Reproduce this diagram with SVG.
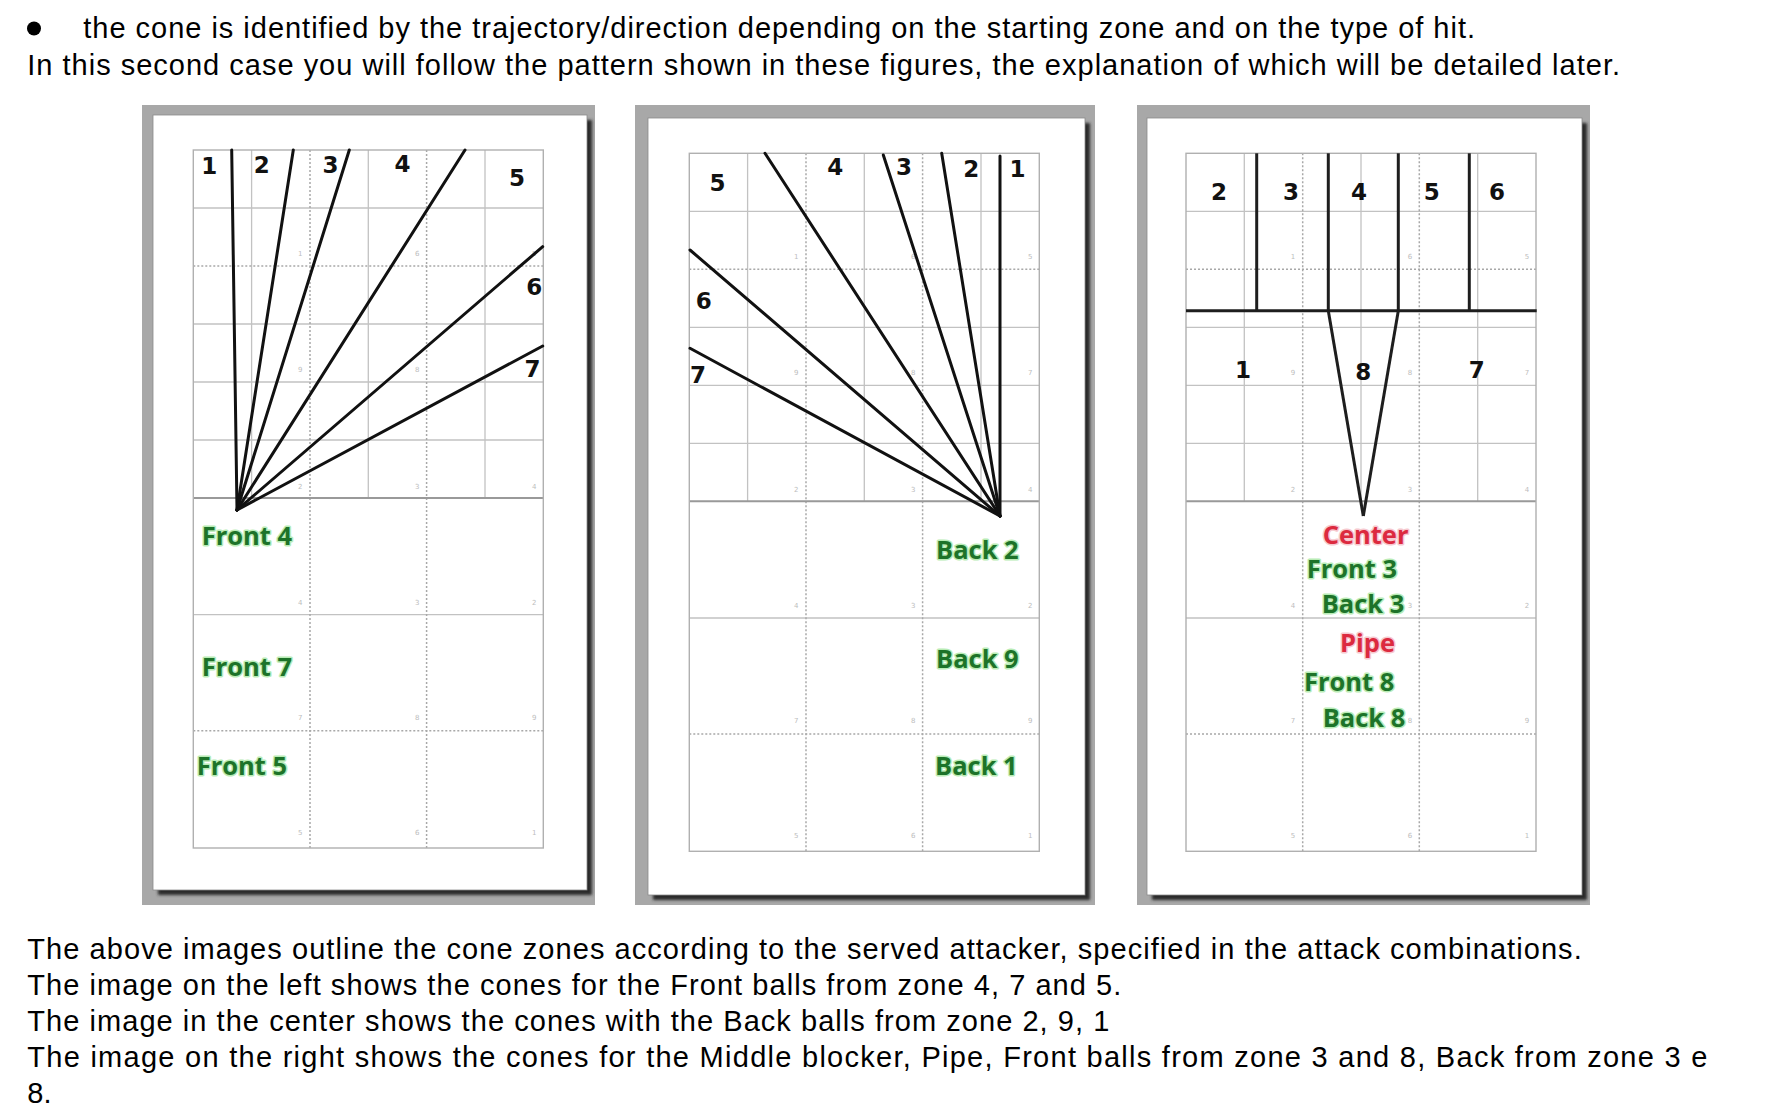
<svg xmlns="http://www.w3.org/2000/svg" width="1768" height="1120" viewBox="0 0 1768 1120">
<style>
.body{font-family:"Liberation Sans",Arial,sans-serif;font-size:29px;fill:#000}
.zn{font-family:"DejaVu Sans",Verdana,sans-serif;font-weight:bold;font-size:23px;fill:#111;text-anchor:middle}
.lab{font-family:"Open Sans","DejaVu Sans",sans-serif;font-weight:bold;font-size:25.5px;paint-order:stroke;stroke-width:3px;stroke-linejoin:round}
.g{fill:#1d7329;stroke:#b9ecb5}
.r{fill:#dc2a3f;stroke:#f6c9cf}
.tiny{font-family:"DejaVu Sans",sans-serif;font-size:7px;fill:#bdbdbd;text-anchor:middle}
.gs{stroke:#c2c2c2;stroke-width:1.3;fill:none}
.gd{stroke:#a8a8a8;stroke-width:1.5;stroke-dasharray:2 2;fill:none}
.fan{stroke:#111;stroke-width:3;fill:none;stroke-linecap:round}
.thick{stroke:#1e1e1e;stroke-width:3;fill:none}
.frame{fill:#a8a8a8}
.sheet{fill:#fff;stroke:#8a8a8a;stroke-width:0.8}
.shadow{fill:#2b2b2b}
</style>
<defs>
<filter id="blur" x="-5%" y="-5%" width="110%" height="110%"><feGaussianBlur stdDeviation="1.6"/></filter>
<g id="court">
  <line class="gs" x1="58.3" y1="0" x2="58.3" y2="348"/>
  <line class="gs" x1="175" y1="0" x2="175" y2="348"/>
  <line class="gs" x1="291.7" y1="0" x2="291.7" y2="348"/>
  <line class="gs" x1="0" y1="58" x2="350" y2="58"/>
  <line class="gs" x1="0" y1="174" x2="350" y2="174"/>
  <line class="gs" x1="0" y1="232" x2="350" y2="232"/>
  <line class="gs" x1="0" y1="290" x2="350" y2="290"/>
  <line class="gd" x1="0" y1="116" x2="350" y2="116"/>
  <line class="gs" x1="0" y1="464.7" x2="350" y2="464.7"/>
  <line class="gd" x1="0" y1="580.7" x2="350" y2="580.7"/>
  <line class="gd" x1="116.7" y1="0" x2="116.7" y2="698"/>
  <line class="gd" x1="233.3" y1="0" x2="233.3" y2="698"/>
  <line x1="0" y1="348" x2="350" y2="348" stroke="#999" stroke-width="2"/>
  <rect x="0" y="0" width="350" height="698" fill="none" stroke="#b0b0b0" stroke-width="1.4"/>
  <g class="tiny">
    <text x="107" y="106">1</text><text x="224" y="106">6</text><text x="341" y="106">5</text>
    <text x="107" y="222">9</text><text x="224" y="222">8</text><text x="341" y="222">7</text>
    <text x="107" y="339">2</text><text x="224" y="339">3</text><text x="341" y="339">4</text>
    <text x="107" y="455">4</text><text x="224" y="455">3</text><text x="341" y="455">2</text>
    <text x="107" y="570">7</text><text x="224" y="570">8</text><text x="341" y="570">9</text>
    <text x="107" y="685">5</text><text x="224" y="685">6</text><text x="341" y="685">1</text>
  </g>
</g>
</defs>
<rect width="1768" height="1120" fill="#fff"/>

<g id="intro-text">
  <circle cx="34" cy="28.5" r="7"/>
  <text class="body" x="83.3" y="38.3" textLength="1391.7" lengthAdjust="spacing">the cone is identified by the trajectory/direction depending on the starting zone and on the type of hit.</text>
  <text class="body" x="27.3" y="75" textLength="1592.7" lengthAdjust="spacing">In this second case you will follow the pattern shown in these figures, the explanation of which will be detailed later.</text>
</g>

<g id="panel-left">
  <rect class="frame" x="142" y="105" width="453" height="800"/>
  <rect class="shadow" x="158" y="120" width="434" height="775" filter="url(#blur)"/>
  <rect class="sheet" x="153" y="115" width="434" height="775"/>
  <use href="#court" transform="translate(193.3,150)"/>
  <text class="zn" x="209.3" y="174">1</text>
  <text class="zn" x="261.7" y="173.3">2</text>
  <text class="zn" x="330.5" y="172.7">3</text>
  <text class="zn" x="402.5" y="171.7">4</text>
  <text class="zn" x="517" y="186">5</text>
  <text class="zn" x="534.2" y="295">6</text>
  <text class="zn" x="532.5" y="376.5">7</text>
  <text class="lab g" x="201.7" y="545">Front 4</text>
  <text class="lab g" x="201.7" y="676">Front 7</text>
  <text class="lab g" x="196.7" y="775">Front 5</text>
</g>

<g id="panel-center">
  <rect class="frame" x="635" y="105" width="460" height="800"/>
  <rect class="shadow" x="653" y="123" width="437" height="777" filter="url(#blur)"/>
  <rect class="sheet" x="648" y="118" width="437" height="777"/>
  <use href="#court" transform="translate(689.3,153.3)"/>
  <text class="zn" x="717.5" y="190.7">5</text>
  <text class="zn" x="835.3" y="175">4</text>
  <text class="zn" x="904" y="175">3</text>
  <text class="zn" x="971.3" y="176.7">2</text>
  <text class="zn" x="1017.5" y="176.7">1</text>
  <text class="zn" x="703.8" y="309.3">6</text>
  <text class="zn" x="698" y="383">7</text>
  <text class="lab g" x="936" y="559.3">Back 2</text>
  <text class="lab g" x="936" y="667.7">Back 9</text>
  <text class="lab g" x="935" y="775">Back 1</text>
</g>

<g id="panel-right">
  <rect class="frame" x="1137" y="105" width="453" height="800"/>
  <rect class="shadow" x="1152" y="123" width="435" height="777" filter="url(#blur)"/>
  <rect class="sheet" x="1147" y="118" width="435" height="777"/>
  <use href="#court" transform="translate(1186,153.3)"/>
  <g id="middle-cones">
    <line class="thick" x1="1186" y1="310.7" x2="1536.7" y2="310.7"/>
    <line class="thick" x1="1256.7" y1="153.3" x2="1256.7" y2="310.7"/>
    <line class="thick" x1="1328.3" y1="153.3" x2="1328.3" y2="310.7"/>
    <line class="thick" x1="1398.3" y1="153.3" x2="1398.3" y2="310.7"/>
    <line class="thick" x1="1469.3" y1="153.3" x2="1469.3" y2="310.7"/>
  </g>
  <text class="zn" x="1219" y="200">2</text>
  <text class="zn" x="1291" y="200">3</text>
  <text class="zn" x="1359" y="200">4</text>
  <text class="zn" x="1431.7" y="200">5</text>
  <text class="zn" x="1497" y="200">6</text>
  <text class="zn" x="1243" y="378.3">1</text>
  <text class="zn" x="1363.3" y="380">8</text>
  <text class="zn" x="1476.7" y="378.3">7</text>
  <text class="lab r" x="1322.7" y="544.3">Center</text>
  <text class="lab g" x="1306.7" y="578.3">Front 3</text>
  <text class="lab g" x="1321.7" y="612.7">Back 3</text>
  <text class="lab r" x="1340" y="652">Pipe</text>
  <text class="lab g" x="1304" y="691">Front 8</text>
  <text class="lab g" x="1322.7" y="727.3">Back 8</text>
</g>

<g id="connectors">
  <g id="fan-left">
    <line class="fan" x1="237" y1="510" x2="231.7" y2="150"/>
    <line class="fan" x1="237" y1="510" x2="293.3" y2="150"/>
    <line class="fan" x1="237" y1="510" x2="349.3" y2="150"/>
    <line class="fan" x1="237" y1="510" x2="465" y2="150"/>
    <line class="fan" x1="237" y1="510" x2="542.7" y2="246.7"/>
    <line class="fan" x1="237" y1="510" x2="542.7" y2="346"/>
  </g>
  <g id="fan-center">
    <line class="fan" x1="1000" y1="516" x2="1000" y2="156"/>
    <line class="fan" x1="1000" y1="516" x2="941.7" y2="153.3"/>
    <line class="fan" x1="1000" y1="516" x2="883.3" y2="155"/>
    <line class="fan" x1="1000" y1="516" x2="765" y2="153.3"/>
    <line class="fan" x1="1000" y1="516" x2="690" y2="250"/>
    <line class="fan" x1="1000" y1="516" x2="690" y2="348.3"/>
  </g>
  <g id="fan-right">
    <line class="thick" x1="1328.3" y1="310.7" x2="1363.3" y2="516"/>
    <line class="thick" x1="1398.3" y1="310.7" x2="1363.3" y2="516"/>
  </g>
</g>

<g id="caption-text">
  <text class="body" x="27.3" y="959" textLength="1554.4" lengthAdjust="spacing">The above images outline the cone zones according to the served attacker, specified in the attack combinations.</text>
  <text class="body" x="27.3" y="995" textLength="1094" lengthAdjust="spacing">The image on the left shows the cones for the Front balls from zone 4, 7 and 5.</text>
  <text class="body" x="27.3" y="1030.5" textLength="1082" lengthAdjust="spacing">The image in the center shows the cones with the Back balls from zone 2, 9, 1</text>
  <text class="body" x="27.3" y="1066.5" textLength="1680" lengthAdjust="spacing">The image on the right shows the cones for the Middle blocker, Pipe, Front balls from zone 3 and 8, Back from zone 3 e</text>
  <text class="body" x="27.3" y="1102.5">8.</text>
</g>
</svg>
